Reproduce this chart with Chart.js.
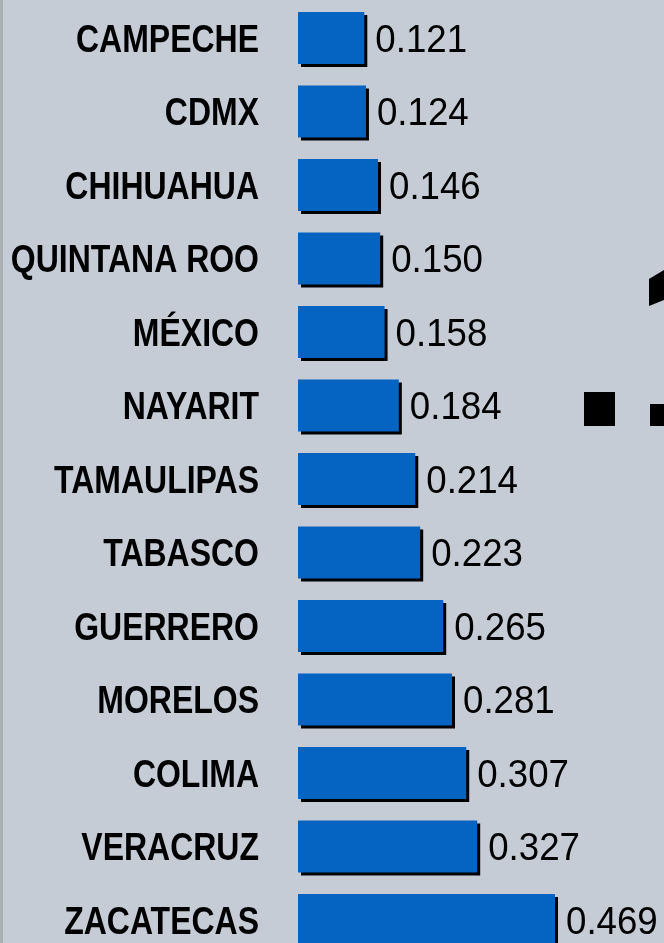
<!DOCTYPE html>
<html>
<head>
<meta charset="utf-8">
<title>Estados</title>
<script src="https://cdn.jsdelivr.net/npm/chart.js@4/dist/chart.umd.min.js"></script>
<style>
  html, body { margin: 0; padding: 0; overflow: hidden; background: #c6ccd6; }
  #wrap { width: 664px; height: 943px; overflow: hidden; }
</style>
</head>
<body>
<div id="wrap"><canvas id="chart" width="664" height="960"></canvas></div>
<script>
// Data
const estados = [
  "CAMPECHE", "CDMX", "CHIHUAHUA", "QUINTANA ROO", "MÉXICO", "NAYARIT",
  "TAMAULIPAS", "TABASCO", "GUERRERO", "MORELOS", "COLIMA", "VERACRUZ", "ZACATECAS"
];
const valores = [0.121, 0.124, 0.146, 0.150, 0.158, 0.184, 0.214, 0.223, 0.265, 0.281, 0.307, 0.327, 0.469];

const fam = "'Liberation Sans', Arial, sans-serif";
const LABEL_RIGHT = 259;   // right edge of the state names
const NAME_SQUEEZE = 0.82; // narrow look
const VALUE_SQUEEZE = 0.94;

// background, left strip and the cut-off big glyphs on the right
const decor = {
  id: "decor",
  beforeDraw(chart) {
    const ctx = chart.ctx;
    ctx.save();
    ctx.fillStyle = "#c6ccd6";
    ctx.fillRect(0, 0, chart.width, chart.height);
    ctx.fillStyle = "#adb0b3";
    ctx.fillRect(0, 0, 3, chart.height);
    ctx.fillStyle = "#000";
    ctx.beginPath();
    ctx.moveTo(649, 279);
    ctx.lineTo(664, 270);
    ctx.lineTo(664, 300);
    ctx.lineTo(649, 306);
    ctx.closePath();
    ctx.fill();
    ctx.fillRect(584, 392, 31, 34);
    ctx.fillRect(650, 404, 14, 22);
    ctx.restore();
  }
};

// squeeze the y tick labels horizontally (no narrow font installed)
const squeezeTicks = {
  id: "squeezeTicks",
  afterLayout(chart) {
    const s = chart.scales.y;
    if (s._squeezed) return;
    const orig = s.drawLabels;
    s._computeLabelArea = function () { return undefined; }; // no clipping
    s.drawLabels = function (area) {
      const ctx = this.ctx;
      ctx.save();
      ctx.translate(LABEL_RIGHT, 3);
      ctx.scale(NAME_SQUEEZE, 1);
      ctx.translate(-LABEL_RIGHT, 0);
      orig.call(this, area);
      ctx.restore();
    };
    s._squeezed = true;
  }
};

// hard black shadow under each bar
const barShadow = {
  id: "barShadow",
  beforeDatasetDraw(chart) {
    const ctx = chart.ctx;
    ctx.save();
    ctx.shadowColor = "#000";
    ctx.shadowOffsetX = 3;
    ctx.shadowOffsetY = 3;
    ctx.shadowBlur = 0;
  },
  afterDatasetDraw(chart) {
    chart.ctx.restore();
  }
};

// value labels right of bars
const valueLabels = {
  id: "valueLabels",
  afterDatasetsDraw(chart) {
    const ctx = chart.ctx;
    const meta = chart.getDatasetMeta(0);
    ctx.fillStyle = "#000";
    ctx.font = "39px " + fam;
    ctx.textAlign = "left";
    ctx.textBaseline = "middle";
    meta.data.forEach((bar, i) => {
      ctx.save();
      ctx.translate(bar.x + 11, bar.y + 3);
      ctx.scale(VALUE_SQUEEZE, 1);
      ctx.fillText(valores[i].toFixed(3), 0, 0);
      ctx.restore();
    });
  }
};

new Chart(document.getElementById("chart"), {
  type: "bar",
  data: {
    labels: estados,
    datasets: [{
      data: valores,
      backgroundColor: "#0563c1",
      borderWidth: 0,
      categoryPercentage: 1,
      barPercentage: 0.71
    }]
  },
  options: {
    indexAxis: "y",
    responsive: false,
    animation: false,
    devicePixelRatio: 1,
    layout: { padding: { top: 1.25, bottom: 3.25, left: 0, right: 37.2 } },
    plugins: { legend: { display: false }, tooltip: { enabled: false } },
    scales: {
      x: { display: false, min: 0, max: 0.6 },
      y: {
        grid: { display: false, drawTicks: false },
        border: { display: false },
        ticks: {
          color: "#000",
          padding: 39,
          font: { family: fam, size: 39, weight: "bold" }
        },
        afterFit(scale) {
          scale.width = 298;
          scale.paddingTop = 0;
          scale.paddingBottom = 0;
        }
      }
    }
  },
  plugins: [decor, squeezeTicks, barShadow, valueLabels]
});
</script>
</body>
</html>
